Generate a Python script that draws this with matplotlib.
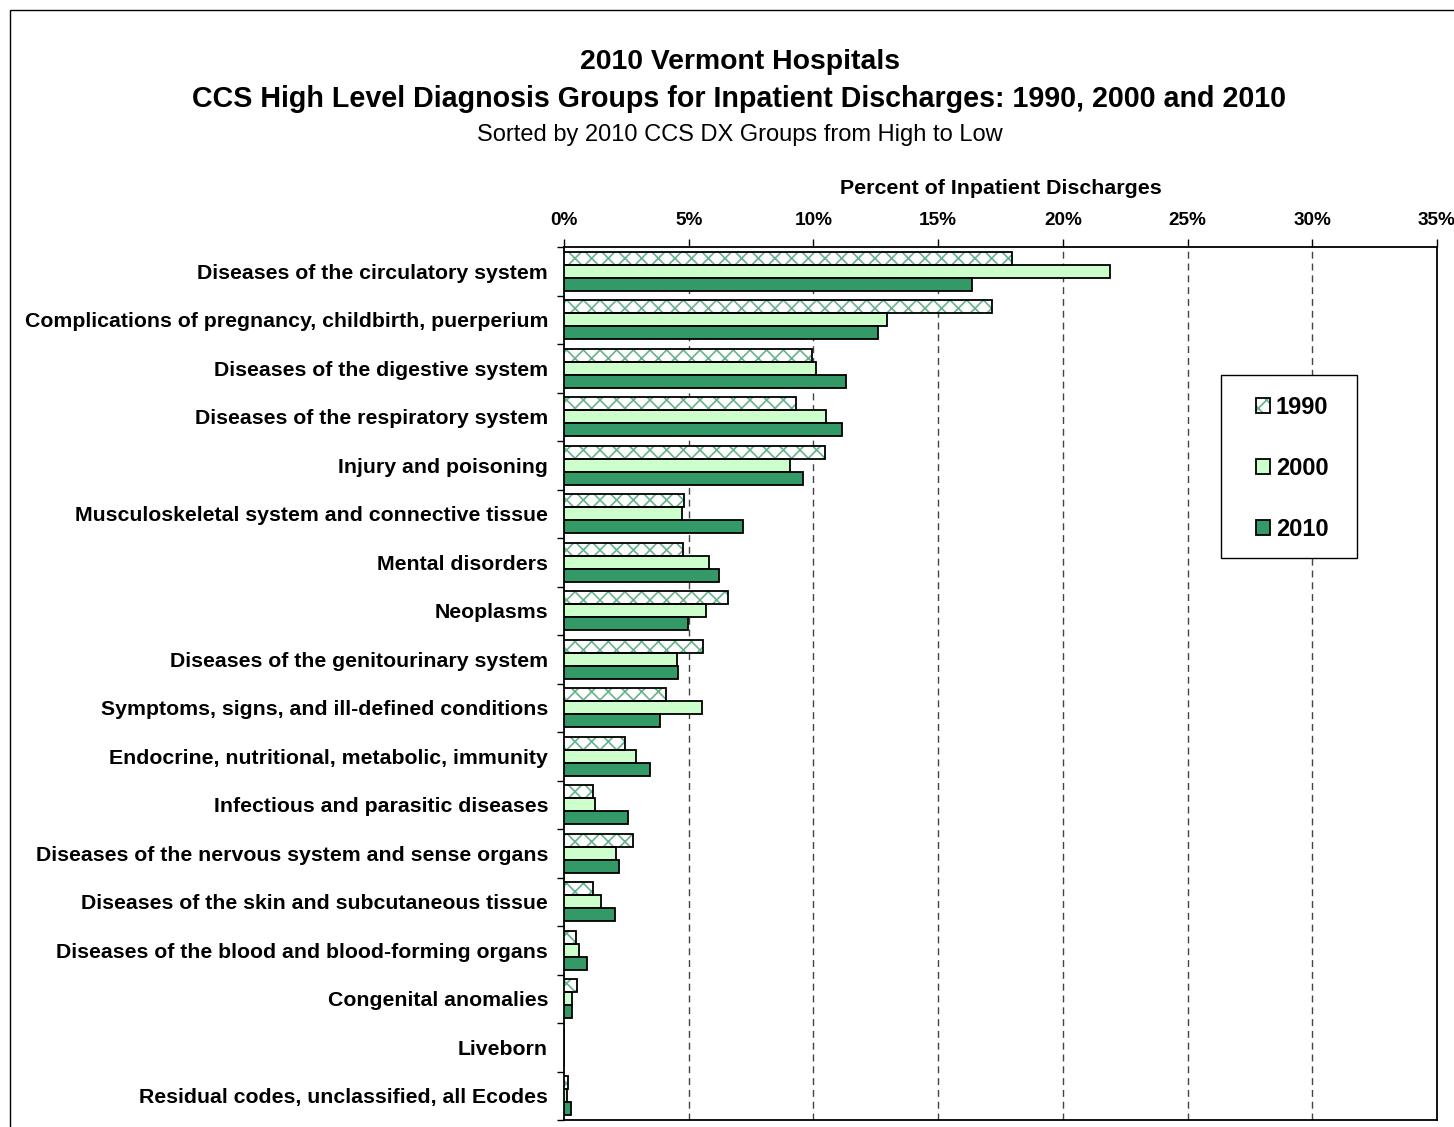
import matplotlib
matplotlib.use("Agg")
import matplotlib.pyplot as plt
import numpy as np
from matplotlib.patches import Rectangle, Patch
from matplotlib.ticker import FixedLocator, PercentFormatter

plt.rcParams["font.family"] = ["Liberation Sans", "DejaVu Sans"]
plt.rcParams["hatch.linewidth"] = 1.2

categories = [
    "Diseases of the circulatory system",
    "Complications of pregnancy, childbirth, puerperium",
    "Diseases of the digestive system",
    "Diseases of the respiratory system",
    "Injury and poisoning",
    "Musculoskeletal system and connective tissue",
    "Mental disorders",
    "Neoplasms",
    "Diseases of the genitourinary system",
    "Symptoms, signs, and ill-defined conditions",
    "Endocrine, nutritional, metabolic, immunity",
    "Infectious and parasitic diseases",
    "Diseases of the nervous system and sense organs",
    "Diseases of the skin and subcutaneous tissue",
    "Diseases of the blood and blood-forming organs",
    "Congenital anomalies",
    "Liveborn",
    "Residual codes, unclassified, all Ecodes",
]

pct_1990 = [17.96, 17.16, 9.94, 9.30, 10.46, 4.82, 4.77, 6.56, 5.59, 4.08,
            2.45, 1.16, 2.77, 1.16, 0.50, 0.51, 0.0, 0.16]
pct_2000 = [21.90, 12.95, 10.10, 10.50, 9.06, 4.72, 5.81, 5.68, 4.53, 5.52,
            2.89, 1.24, 2.08, 1.48, 0.61, 0.33, 0.0, 0.13]
pct_2010 = [16.36, 12.59, 11.30, 11.15, 9.58, 7.19, 6.23, 4.98, 4.58, 3.84,
            3.45, 2.57, 2.20, 2.04, 0.91, 0.33, 0.0, 0.27]

x_ticks = [0, 5, 10, 15, 20, 25, 30, 35]

green_dark = "#339966"
green_light = "#CCFFCC"
hatch_green = "#66B38C"

W, H = 1454, 1127
fig = plt.figure(figsize=(W / 100, H / 100), dpi=100)
ax = fig.add_axes([564 / W, 1 - 1120 / H, 873 / W, 873 / H])

y = np.arange(len(categories))
h = 0.27

# 1990: white with green cross hatch, black outline drawn on top
ax.barh(y - h, pct_1990, height=h, color="white", edgecolor=hatch_green,
        hatch="xx", linewidth=0, zorder=3)
ax.barh(y - h, pct_1990, height=h, fill=False, edgecolor="black",
        linewidth=1.3, zorder=4)
ax.barh(y, pct_2000, height=h, color=green_light, edgecolor="black",
        linewidth=1.3, zorder=3)
ax.barh(y + h, pct_2010, height=h, color=green_dark, edgecolor="black",
        linewidth=1.3, zorder=3)

ax.set_xlim(0, 35)
ax.set_ylim(len(categories) - 0.5, -0.5)

ax.xaxis.tick_top()
ax.xaxis.set_label_position("top")
ax.set_xticks(x_ticks)
ax.xaxis.set_major_formatter(PercentFormatter(decimals=0))
ax.tick_params(axis="x", direction="out", length=6, width=1, pad=7,
               labelsize=13.7)
for lab in ax.get_xticklabels():
    lab.set_fontweight("bold")
ax.set_xlabel("Percent of Inpatient Discharges", fontsize=15.4,
              fontweight="bold", labelpad=13)

ax.set_yticks(y)
ax.set_yticklabels(categories, fontsize=15.3, fontweight="bold")
ax.tick_params(axis="y", which="major", length=0, pad=11.5)
ax.yaxis.set_minor_locator(FixedLocator(np.arange(-0.5, len(categories), 1)))
ax.tick_params(axis="y", which="minor", direction="out", length=5, width=1)

for xv in x_ticks[1:-1]:
    ax.axvline(xv, color="#444444", linewidth=1, linestyle=(0, (5, 3.5)),
               zorder=1)

for s in ax.spines.values():
    s.set_linewidth(1.3)

# legend: box drawn by hand, entries centred in it
box_l, box_r, box_t, box_b = 1221, 1357, 375, 558
fig.patches.append(Rectangle((box_l / W, 1 - box_b / H), (box_r - box_l) / W,
                             (box_b - box_t) / H, transform=fig.transFigure,
                             facecolor="white", edgecolor="black",
                             linewidth=1, zorder=5))
h1990 = (Patch(facecolor="white", edgecolor=hatch_green, hatch="xx",
               linewidth=0),
         Patch(fill=False, edgecolor="black", linewidth=1.3))
h2000 = Patch(facecolor=green_light, edgecolor="black", linewidth=1.3)
h2010 = Patch(facecolor=green_dark, edgecolor="black", linewidth=1.3)
leg = fig.legend([h1990, h2000, h2010], ["1990", "2000", "2010"],
                 loc="center",
                 bbox_to_anchor=((box_l + box_r) / 2 / W + 3 / W,
                                 1 - ((box_t + box_b) / 2 + 2) / H),
                 frameon=False, prop={"size": 17, "weight": "bold"},
                 handlelength=0.6, handleheight=0.6, handletextpad=0.25,
                 labelspacing=1.62, borderpad=0)
leg.set_zorder(6)

cx = 739.5 / W
fig.text(cx, 1 - 62 / H, "2010 Vermont Hospitals", ha="center",
         va="center", fontsize=20.4, fontweight="bold")
fig.text(cx, 1 - 99 / H,
         "CCS High Level Diagnosis Groups for Inpatient Discharges: 1990, 2000 and 2010",
         ha="center", va="center", fontsize=20.6, fontweight="bold")
fig.text(cx, 1 - 135 / H, "Sorted by 2010 CCS DX Groups from High to Low",
         ha="center", va="center", fontsize=17)

fig.patches.append(Rectangle((10 / W, -0.05), 1.2, 1 - 10 / H + 0.05,
                             transform=fig.transFigure, fill=False,
                             edgecolor="black", linewidth=1))

fig.savefig("out.png", dpi=100)
